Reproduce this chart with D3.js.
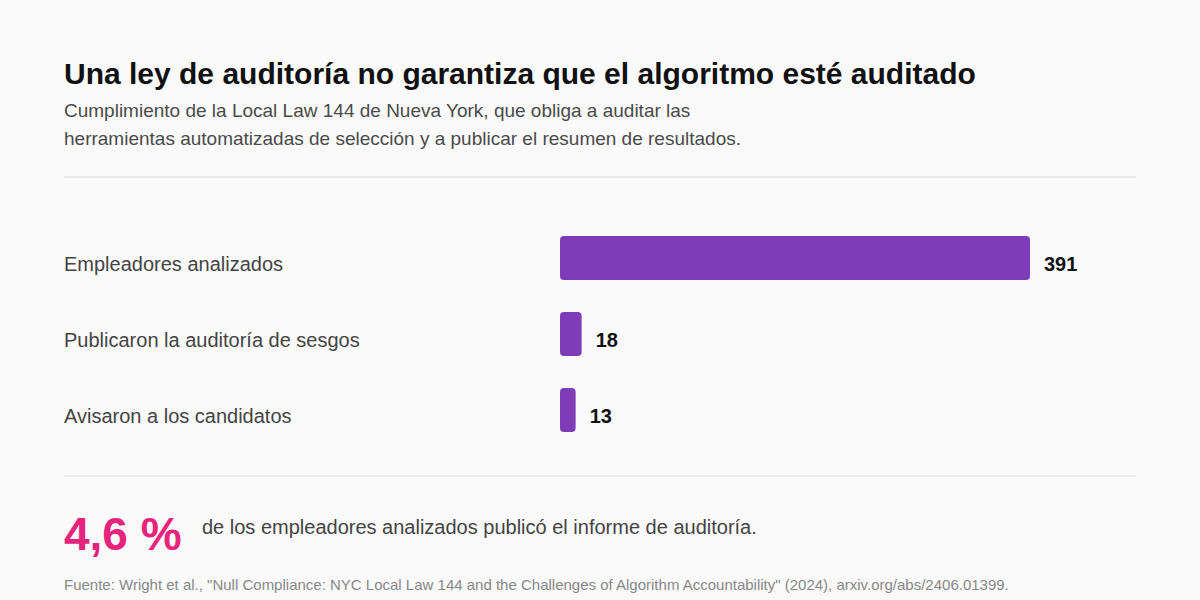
<!DOCTYPE html>
<html>
<head>
<meta charset="utf-8">
<script src="https://cdn.jsdelivr.net/npm/d3@7"></script>
<style>
	body { margin: 0; background: #fafafa; }
	text { font-family: "Liberation Sans", Arial, sans-serif; }
</style>
</head>
<body>
<div id="figure"></div>
<script>
const categories = ['Empleadores analizados', 'Publicaron la auditoría de sesgos', 'Avisaron a los candidatos']
const values = [391, 18, 13]
const titleText = 'Una ley de auditoría no garantiza que el algoritmo esté auditado'
const subtitleLines = ['Cumplimiento de la Local Law 144 de Nueva York, que obliga a auditar las',
	'herramientas automatizadas de selección y a publicar el resumen de resultados.'
]
const highlightText = 'de los empleadores analizados publicó el informe de auditoría.'
const sourceText = 'Fuente: Wright et al., "Null Compliance: NYC Local Law 144 and the Challenges of Algorithm Accountability" (2024), arxiv.org/abs/2406.01399.'

const svg = d3.select('#figure')
	.append('svg')
	.attr('width', 1200)
	.attr('height', 600)

svg.append('rect')
	.attr('width', 1200)
	.attr('height', 600)
	.attr('fill', '#fafafa')

svg.append('text')
	.attr('x', 64)
	.attr('y', 84)
	.attr('fill', '#111')
	.attr('font-size', 30)
	.attr('font-weight', 'bold')
	.text(titleText)

svg.selectAll('.sub')
	.data(subtitleLines)
	.enter()
	.append('text')
	.attr('class', 'sub')
	.attr('x', 64)
	.attr('y', (d, i) => 117 + i * 28)
	.attr('fill', '#4a4a4a')
	.attr('font-size', 19)
	.text(d => d)

svg.append('line')
	.attr('x1', 64)
	.attr('x2', 1136)
	.attr('y1', 177)
	.attr('y2', 177)
	.attr('stroke', '#dddddd')
	.attr('stroke-width', 1)

const xScale = d3.scaleLinear()
	.domain([0, d3.max(values)])
	.range([560, 1030])

const yScale = d3.scaleBand()
	.domain(categories)
	.range([220, 448])
	.paddingInner(0.42)
	.paddingOuter(0.21)

const rows = svg.append('g')
	.selectAll('g')
	.data(categories)
	.enter()
	.append('g')

rows.append('text')
	.attr('x', 64)
	.attr('y', d => yScale(d) + yScale.bandwidth() / 2)
	.attr('dy', '0.65em')
	.attr('fill', '#444')
	.attr('font-size', 20)
	.text(d => d)

rows.append('rect')
	.attr('x', xScale(0))
	.attr('y', d => yScale(d))
	.attr('width', (d, i) => xScale(values[i]) - xScale(0))
	.attr('height', yScale.bandwidth())
	.attr('rx', 4)
	.attr('fill', '#7e3db6')

rows.append('text')
	.attr('x', (d, i) => xScale(values[i]) + 14)
	.attr('y', d => yScale(d) + yScale.bandwidth() / 2)
	.attr('dy', '0.65em')
	.attr('fill', '#111')
	.attr('font-size', 20)
	.attr('font-weight', 'bold')
	.text((d, i) => values[i])

svg.append('line')
	.attr('x1', 64)
	.attr('x2', 1136)
	.attr('y1', 476)
	.attr('y2', 476)
	.attr('stroke', '#dddddd')
	.attr('stroke-width', 1)

const pct = (values[1] / values[0] * 100).toFixed(1).replace('.', ',') + ' %'

svg.append('text')
	.attr('x', 64)
	.attr('y', 550)
	.attr('fill', '#e6247b')
	.attr('font-size', 46)
	.attr('font-weight', 'bold')
	.text(pct)

svg.append('text')
	.attr('x', 202)
	.attr('y', 534)
	.attr('fill', '#444')
	.attr('font-size', 20)
	.text(highlightText)

svg.append('text')
	.attr('x', 64)
	.attr('y', 590)
	.attr('fill', '#888')
	.attr('font-size', 15)
	.text(sourceText)
</script>
</body>
</html>
